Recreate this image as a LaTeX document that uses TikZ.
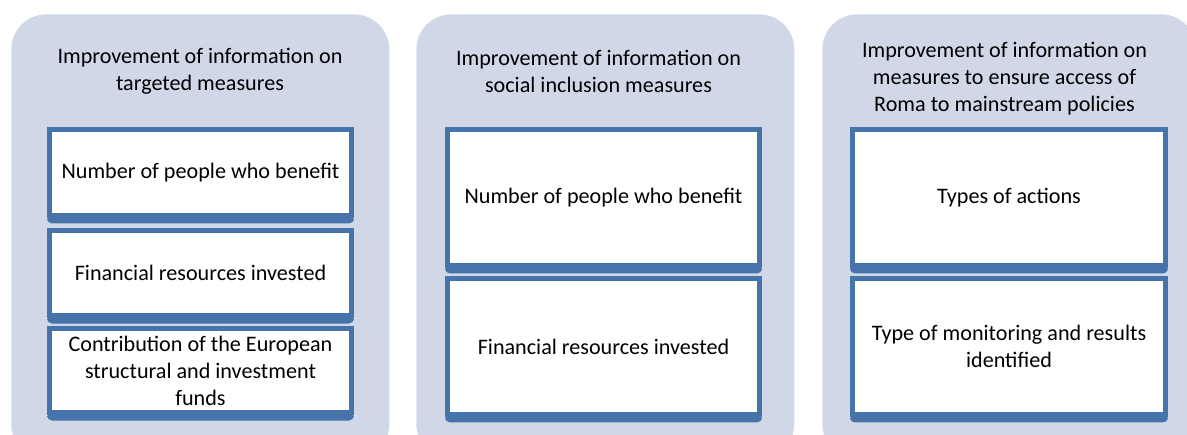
\documentclass[tikz,border=0pt]{standalone}
\usepackage{fontspec}
\setmainfont{Carlito}
\usetikzlibrary{positioning}
\definecolor{panelfill}{RGB}{208,216,232}
\definecolor{boxblue}{RGB}{70,116,170}
\tikzstyle{panel} = [rectangle, rounded corners=0.7cm, fill=panelfill, minimum width=7.56cm, minimum height=8.9cm, anchor=north west]
\tikzstyle{title} = [align=center, font=\fontsize{12.6}{15.4}\selectfont]
\tikzstyle{item} = [rectangle, draw=boxblue, line width=0.1cm, fill=white, align=center, inner sep=0pt, font=\fontsize{12.6}{15.4}\selectfont]
\tikzstyle{itemA} = [item, minimum width=6.04cm]
\tikzstyle{itemB} = [item, minimum width=6.24cm, minimum height=2.72cm]
\tikzstyle{lip} = [fill=boxblue, rounded corners=0.1cm]

\begin{document}
\begin{tikzpicture}[x=0.02cm, y=-0.02cm]
\useasboundingbox (0,0) rectangle (1187,434);
\clip (0,0) rectangle (1187,434);

\node (targeted) [panel] at (11,14) {};
\node (social) [panel] at (416,14) {};
\node (mainstream) [panel, minimum width=7.48cm] at (822,14) {};

\node (targetedT) [title] at (200,71.5) {Improvement of information on\\targeted measures};
\node (socialT) [title] at (598.5,71.5) {Improvement of information on\\social inclusion measures};
\node (mainstreamT) [title] at (1004.5,79) {Improvement of information on\\measures to ensure access of\\Roma to mainstream policies};

% targeted measures
\node (tPeople) [itemA, minimum height=1.72cm] at (200.5,172.5) {Number of people who benefit};
\node (tMoney) [itemA, minimum height=1.70cm] at (200.5,273) {Financial resources invested};
\node (tFunds) [itemA, minimum height=1.68cm] at (200.5,370.5) {Contribution of the European\\structural and investment\\funds};

% social inclusion measures
\node (sPeople) [itemB] at (603.5,197.5) {Number of people who benefit};
\node (sMoney) [itemB] at (603.5,346.5) {Financial resources invested};

% mainstream policies
\node (mActions) [itemB, minimum width=6.26cm] at (1009,197.5) {Types of actions};
\node (mMonitor) [itemB, minimum width=6.26cm] at (1009,346.5) {Type of monitoring and results\\identified};

\foreach \b in {tPeople, tMoney, tFunds, sPeople, sMoney, mActions, mMonitor}
  \fill [lip] ([yshift=0.05cm]\b.south west) rectangle ([yshift=-0.11cm]\b.south east);
\end{tikzpicture}
\end{document}
